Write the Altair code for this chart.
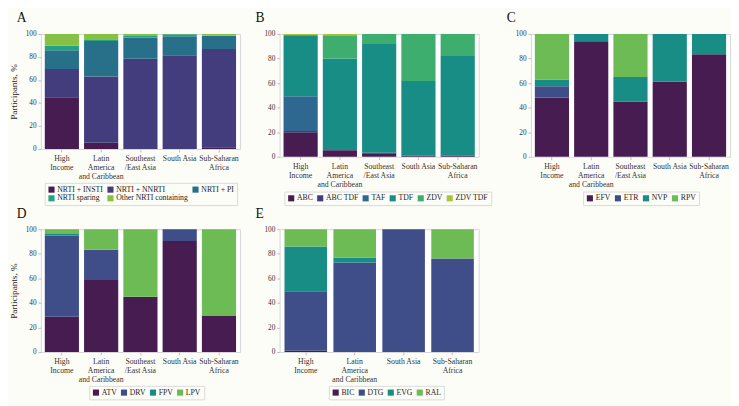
import altair as alt
import pandas as pd

SERIF = "Liberation Serif"

regions5 = ["High\nIncome", "Latin\nAmerica\nand Caribbean", "Southeast\n/East Asia", "South Asia", "Sub-Saharan\nAfrica"]
regions4 = ["High\nIncome", "Latin\nAmerica\nand Caribbean", "South Asia", "Sub-Saharan\nAfrica"]

# Panel A: backbone
a_groups = ["NRTI + INSTI", "NRTI + NNRTI", "NRTI + PI", "NRTI sparing", "Other NRTI containing"]
a_insti = [45, 5.5, 0, 0, 1.5]
a_nnrti = [24.5, 57.5, 78.5, 81.5, 85.5]
a_pi = [16.3, 31, 18.5, 16.5, 11.5]
a_sparing = [4, 0.8, 1.2, 1.7, 0.3]
a_other = [10.2, 5.2, 1.8, 0.3, 1.2]
a_colors = ["#471d51", "#433d7d", "#287089", "#22a484", "#86c044"]

# Panel B: NRTI
b_groups = ["ABC", "ABC TDF", "TAF", "TDF", "ZDV", "ZDV TDF"]
b_abc = [20, 5.3, 2.8, 1, 1]
b_abctdf = [1, 0.3, 0.4, 0, 0.3]
b_taf = [28.3, 0, 0, 0, 0]
b_tdf = [49.7, 74.4, 88.7, 60.7, 80.7]
b_zdv = [0.2, 19.0, 8.1, 38.3, 18]
b_zdvtdf = [0.8, 1.0, 0, 0, 0]
b_colors = ["#471d51", "#433d7d", "#2e6890", "#178d85", "#3dae6e", "#a8c43a"]

# Panel C: NNRTI
c_groups = ["EFV", "ETR", "NVP", "RPV"]
c_efv = [48.3, 94, 45, 61, 83.5]
c_etr = [9.1, 0, 0, 0, 0]
c_nvp = [5.6, 6, 20, 39, 16.5]
c_rpv = [37, 0, 35, 0, 0]
c_colors = ["#471d51", "#3f4d88", "#178d85", "#6dbb55"]

# Panel D: PI
d_groups = ["ATV", "DRV", "FPV", "LPV"]
d_atv = [28.7, 58.6, 45, 90.4, 29.7]
d_drv = [66.3, 24.7, 0, 9.6, 0]
d_fpv = [1.2, 0, 0, 0, 0]
d_lpv = [3.8, 16.7, 55, 0, 70.3]
d_colors = ["#471d51", "#3f4d88", "#178d85", "#6dbb55"]

# Panel E: INSTI
e_groups = ["BIC", "DTG", "EVG", "RAL"]
e_bic = [1, 0, 0, 0]
e_dtg = [48.5, 72.9, 100, 76.2]
e_evg = [36.5, 4, 0, 0]
e_ral = [14, 23.1, 0, 23.8]
e_colors = ["#471d51", "#3f4d88", "#178d85", "#6dbb55"]

W = 206


def panel(letter, regions, groups, series, colors, h, cols, ytitle, lx, ly):
    rows = []
    for gi, g in enumerate(groups):
        for ri, r in enumerate(regions):
            v = series[gi][ri]
            if v > 0:
                rows.append({"region": r, "group": g, "gi": gi, "pct": v})
    df = pd.DataFrame(rows)
    yaxis_kwargs = dict(
        values=[0, 20, 40, 60, 80, 100], grid=False, domain=False,
        tickColor="#bdbdbd", tickSize=3, labelFont=SERIF, labelFontSize=7.5,
        labelColor="#333333", labelPadding=2,
    )
    if ytitle:
        yaxis_kwargs.update(title="Participants, %", titleFont=SERIF, titleFontSize=9.5,
                            titleFontWeight="normal", titleColor="#222222", titlePadding=7)
    else:
        yaxis_kwargs.update(title=None)
    return alt.Chart(df, title=alt.TitleParams(
        letter, anchor="start", frame="group", dx=-25, fontSize=14, font=SERIF,
        fontWeight="normal", color="#111111", offset=5)).mark_bar(strokeWidth=0).encode(
        x=alt.X("region:N", sort=regions,
                scale=alt.Scale(domain=regions, paddingInner=0.13, paddingOuter=0.1),
                axis=alt.Axis(title=None, labelAngle=0, labelExpr="split(datum.label, '\\n')",
                              labelFont=SERIF, labelFontSize=8, labelColor="#333333",
                              labelLineHeight=9.3, labelBaseline="top", labelPadding=3,
                              domain=False, tickColor="#bdbdbd", tickSize=3)),
        y=alt.Y("pct:Q", stack="zero", scale=alt.Scale(domain=[0, 100], nice=False),
                axis=alt.Axis(**yaxis_kwargs)),
        color=alt.Color("group:N", sort=groups,
                        scale=alt.Scale(domain=groups, range=colors),
                        legend=alt.Legend(title=None, orient="none", legendX=lx, legendY=ly,
                                          direction="horizontal", columns=cols,
                                          symbolType="square", symbolSize=40,
                                          symbolStrokeWidth=0, labelFont=SERIF,
                                          labelFontSize=8, labelColor="#222222",
                                          strokeColor="#d9d9d9", padding=3,
                                          columnPadding=3, rowPadding=1, labelOffset=2)),
        order=alt.Order("gi:Q", sort="ascending"),
    ).properties(width=W, height=h)


HA = 119
H = 127
pA = panel("A", regions5, a_groups, [a_insti, a_nnrti, a_pi, a_sparing, a_other], a_colors, HA, 3, True, 4, HA + 35)
pB = panel("B", regions5, b_groups, [b_abc, b_abctdf, b_taf, b_tdf, b_zdv, b_zdvtdf], b_colors, H, 6, False, 5, H + 36)
pC = panel("C", regions5, c_groups, [c_efv, c_etr, c_nvp, c_rpv], c_colors, H, 4, False, 54, H + 36)
pD = panel("D", regions5, d_groups, [d_atv, d_drv, d_fpv, d_lpv], d_colors, H, 4, True, 50, H + 35)
pE = panel("E", regions4, e_groups, [e_bic, e_dtg, e_evg, e_ral], e_colors, H, 4, False, 51, H + 35)

row1 = alt.hconcat(pA, pB, pC, spacing=14).resolve_scale(color="independent", x="independent", y="independent")
row2 = alt.hconcat(pD, pE, spacing=14).resolve_scale(color="independent", x="independent", y="independent")

chart = alt.vconcat(row1, row2, spacing=0).resolve_scale(
    color="independent", x="independent", y="independent"
).configure(
    background="#fdfdf8",
    padding={"left": 0, "top": -4, "right": 0, "bottom": 0},
    font=SERIF,
).configure_view(
    stroke="#d6d6d6", strokeWidth=1, fill="#ffffff"
).configure_legend(
    labelFont=SERIF
).configure_axis(
    labelFont=SERIF, titleFont=SERIF
)

chart.save("out.html", embed_options={"renderer": "svg", "actions": False})
